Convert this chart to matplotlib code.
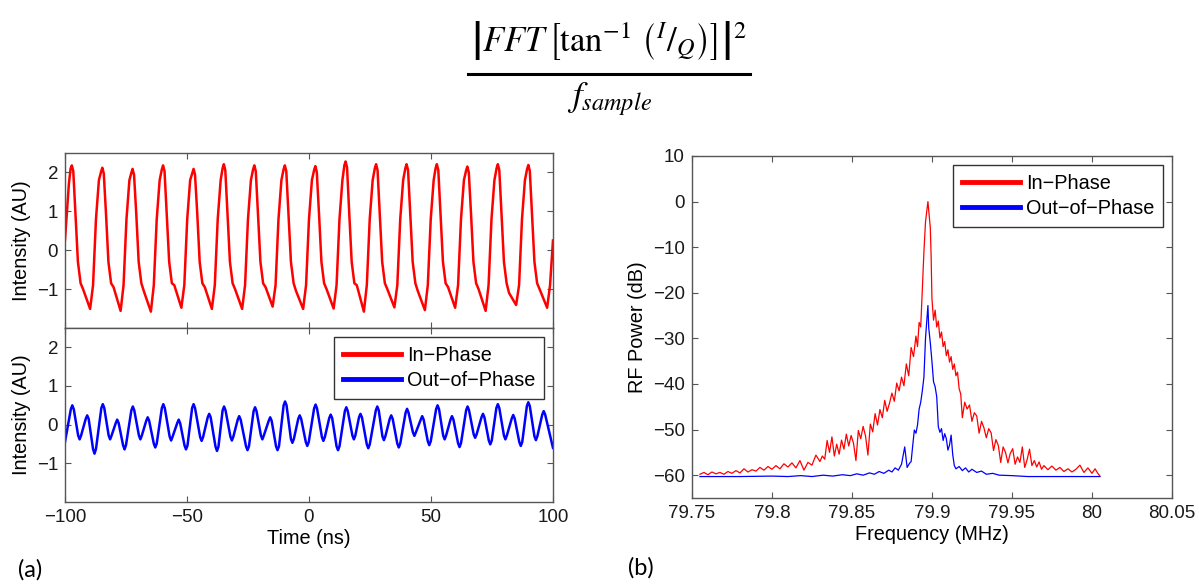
import matplotlib
matplotlib.use('Agg')
import matplotlib.pyplot as plt
from matplotlib.lines import Line2D

plt.rcParams['font.family'] = ['Liberation Sans', 'DejaVu Sans']
plt.rcParams['mathtext.fontset'] = 'stix'

# ---- (a) time traces ----
red_t = [-100.0, -98.4, -97.7,
         -97.2, -96.6, -95.7, -94.7, -93.6, -92.6, -89.7, -88.5, -87.3, -86.1,
         -85.2, -84.7, -84.1, -83.2, -82.2, -81.1, -80.1, -77.2, -76.0, -74.8, -73.6,
         -72.8, -72.3, -71.7, -70.8, -69.8, -68.7, -67.7, -64.8, -63.6, -62.4, -61.2,
         -60.3, -59.8, -59.2, -58.3, -57.3, -56.2, -55.2, -52.3, -51.1, -49.9, -48.7,
         -47.8, -47.3, -46.7, -45.8, -44.8, -43.7, -42.7, -39.8, -38.6, -37.4, -36.2,
         -35.4, -34.9, -34.3, -33.4, -32.4, -31.3, -30.3, -27.4, -26.2, -25.0, -23.8,
         -22.9, -22.4, -21.8, -20.9, -19.9, -18.8, -17.8, -14.9, -13.7, -12.5, -11.3,
         -10.4, -9.9, -9.3, -8.4, -7.4, -6.3, -5.3, -2.4, -1.2, 0.0, 1.2,
         2.1, 2.6, 3.2, 4.1, 5.1, 6.2, 7.2, 10.1, 11.3, 12.5, 13.7,
         14.5, 15.0, 15.6, 16.5, 17.5, 18.6, 19.6, 22.5, 23.7, 24.9, 26.1,
         27.0, 27.5, 28.1, 29.0, 30.0, 31.1, 32.1, 35.0, 36.2, 37.4, 38.6,
         39.5, 40.0, 40.6, 41.5, 42.5, 43.6, 44.6, 47.5, 48.7, 49.9, 51.1,
         51.9, 52.4, 53.0, 53.9, 54.9, 56.0, 57.0, 59.9, 61.1, 62.3, 63.5,
         64.4, 64.9, 65.5, 66.4, 67.4, 68.5, 69.5, 72.4, 73.6, 74.8, 76.0,
         76.9, 77.4, 78.0, 78.9, 79.9, 81.0, 82.0, 84.9, 86.1, 87.3, 88.5,
         89.4, 89.9, 90.5, 91.4, 92.4, 93.5, 94.5, 97.6, 98.8, 100.0]
red_v = [0.26, 1.71, 2.10,
         2.18, 2.03, 0.95, -0.30, -0.85, -1.00, -1.51, -0.90, 0.80, 1.80,
         2.02, 2.12, 1.97, 0.95, -0.30, -0.85, -0.95, -1.56, -0.90, 0.80, 1.80,
         1.99, 2.09, 1.94, 0.95, -0.30, -0.85, -1.05, -1.58, -0.90, 0.80, 1.80,
         2.08, 2.18, 2.03, 0.95, -0.30, -0.85, -0.90, -1.48, -0.90, 0.80, 1.80,
         1.99, 2.09, 1.94, 0.95, -0.30, -0.85, -0.95, -1.51, -0.90, 0.80, 1.80,
         2.11, 2.21, 2.06, 0.95, -0.30, -0.85, -1.00, -1.51, -0.90, 0.80, 1.80,
         2.08, 2.18, 2.03, 0.95, -0.30, -0.85, -0.95, -1.45, -0.90, 0.80, 1.80,
         2.08, 2.18, 2.03, 0.95, -0.30, -0.85, -1.05, -1.51, -0.90, 0.80, 1.80,
         2.06, 2.16, 2.01, 0.95, -0.30, -0.85, -1.00, -1.50, -0.90, 0.80, 1.80,
         2.18, 2.28, 2.13, 0.95, -0.30, -0.85, -0.90, -1.58, -0.90, 0.80, 1.80,
         2.11, 2.21, 2.06, 0.95, -0.30, -0.85, -1.00, -1.47, -0.90, 0.80, 1.80,
         2.11, 2.21, 2.06, 0.95, -0.30, -0.85, -1.05, -1.54, -0.90, 0.80, 1.80,
         2.11, 2.21, 2.06, 0.95, -0.30, -0.85, -0.95, -1.48, -0.90, 0.80, 1.80,
         2.05, 2.15, 2.00, 0.95, -0.30, -0.85, -1.00, -1.56, -0.90, 0.80, 1.80,
         2.11, 2.21, 2.06, 0.95, -0.30, -0.85, -1.10, -1.41, -0.90, 0.80, 1.80,
         2.09, 2.19, 2.04, 0.95, -0.30, -0.85, -1.00, -1.48, -0.90, 0.25]

blue_t = [-100.0,
          -97.6, -97.0, -96.4, -94.6, -94.0, -93.4, -91.5, -90.9, -90.3, -88.5, -87.9, -87.3,
          -85.1, -84.5, -83.9, -82.1, -81.5, -80.9, -79.2, -78.6, -78.0, -76.2, -75.6, -75.0,
          -72.8, -72.2, -71.6, -69.7, -69.1, -68.5, -66.7, -66.1, -65.5, -63.6, -63.0, -62.4,
          -60.3, -59.7, -59.1, -57.1, -56.5, -55.9, -54.0, -53.4, -52.8, -51.0, -50.4, -49.8,
          -47.9, -47.3, -46.7, -44.6, -44.0, -43.4, -41.5, -40.9, -40.3, -38.3, -37.7, -37.1,
          -35.4, -34.8, -34.2, -32.2, -31.6, -31.0, -29.2, -28.6, -28.0, -25.8, -25.2, -24.6,
          -22.7, -22.1, -21.5, -19.7, -19.1, -18.5, -16.5, -15.9, -15.3, -13.5, -12.9, -12.3,
          -10.4, -9.8, -9.2, -7.4, -6.8, -6.2, -4.4, -3.8, -3.2, -1.3, -0.7, -0.1,
          2.1, 2.7, 3.3, 5.3, 5.9, 6.5, 8.3, 8.9, 9.5, 11.3, 11.9, 12.5,
          14.7, 15.3, 15.9, 17.8, 18.4, 19.0, 20.5, 21.1, 21.7, 23.7, 24.3, 24.9,
          27.4, 28.0, 28.6, 30.1, 30.7, 31.3, 33.1, 33.7, 34.3, 36.2, 36.8, 37.4,
          39.6, 40.2, 40.8, 42.6, 43.2, 43.8, 45.8, 46.4, 47.0, 48.7, 49.3, 49.9,
          52.1, 52.7, 53.3, 55.0, 55.6, 56.2, 58.0, 58.6, 59.2, 61.1, 61.7, 62.3,
          64.4, 65.0, 65.6, 67.5, 68.1, 68.7, 70.7, 71.3, 71.9, 73.7, 74.3, 74.9,
          76.8, 77.4, 78.0, 79.9, 80.5, 81.1, 83.1, 83.7, 84.3, 86.2, 86.8, 87.4,
          89.3, 89.9, 90.5, 92.4, 93.0, 93.6, 95.6, 96.2, 96.8,
          100.0]
blue_v = [-0.45,
          0.40, 0.50, 0.40, -0.28, -0.38, -0.28, 0.15, 0.24, 0.15, -0.63, -0.75, -0.63,
          0.43, 0.53, 0.43, -0.28, -0.38, -0.28, 0.04, 0.13, 0.04, -0.53, -0.64, -0.53,
          0.37, 0.47, 0.37, -0.28, -0.38, -0.28, 0.10, 0.19, 0.10, -0.49, -0.59, -0.49,
          0.43, 0.53, 0.43, -0.31, -0.41, -0.31, 0.04, 0.13, 0.04, -0.54, -0.64, -0.54,
          0.43, 0.53, 0.43, -0.32, -0.42, -0.32, 0.19, 0.28, 0.19, -0.57, -0.68, -0.57,
          0.37, 0.47, 0.37, -0.31, -0.41, -0.31, 0.13, 0.22, 0.13, -0.56, -0.66, -0.56,
          0.35, 0.45, 0.35, -0.28, -0.38, -0.28, 0.10, 0.19, 0.10, -0.56, -0.66, -0.56,
          0.50, 0.60, 0.50, -0.37, -0.47, -0.37, 0.15, 0.24, 0.15, -0.45, -0.55, -0.45,
          0.42, 0.52, 0.42, -0.32, -0.42, -0.32, 0.17, 0.26, 0.17, -0.56, -0.66, -0.56,
          0.35, 0.45, 0.35, -0.28, -0.38, -0.28, 0.19, 0.28, 0.19, -0.51, -0.61, -0.51,
          0.37, 0.47, 0.37, -0.30, -0.40, -0.30, 0.15, 0.24, 0.15, -0.49, -0.59, -0.49,
          0.31, 0.41, 0.31, -0.20, -0.29, -0.20, 0.13, 0.22, 0.13, -0.43, -0.53, -0.43,
          0.40, 0.50, 0.40, -0.28, -0.38, -0.28, 0.13, 0.22, 0.13, -0.48, -0.58, -0.48,
          0.37, 0.47, 0.37, -0.25, -0.34, -0.25, 0.19, 0.28, 0.19, -0.41, -0.51, -0.41,
          0.43, 0.53, 0.43, -0.28, -0.38, -0.28, 0.16, 0.25, 0.16, -0.45, -0.55, -0.45,
          0.48, 0.58, 0.48, -0.30, -0.40, -0.30, 0.26, 0.35, 0.26,
          -0.60]

time_ticks = [-100, -50, 0, 50, 100]
int_ticks = [-1, 0, 1, 2]

# ---- (b) RF spectra ----
red_f = [79.755, 79.7575, 79.760, 79.7625, 79.765, 79.7675, 79.770, 79.7725, 79.775, 79.7775,
         79.780, 79.7825, 79.785, 79.7875, 79.790, 79.7925, 79.795, 79.7975, 79.800, 79.8025,
         79.805, 79.8075, 79.810, 79.8125, 79.815, 79.8175, 79.820, 79.8225, 79.825, 79.8275,
         79.830, 79.8315, 79.833, 79.8345, 79.836, 79.8375, 79.839, 79.8405, 79.842, 79.8435,
         79.845, 79.8465, 79.848, 79.8495, 79.851, 79.8525, 79.854, 79.8555, 79.857, 79.8585,
         79.860, 79.8615, 79.863, 79.8645, 79.866, 79.8675, 79.869, 79.8705, 79.872, 79.8735,
         79.875, 79.8765, 79.878, 79.8795, 79.881, 79.8825, 79.884, 79.8855, 79.887, 79.8885,
         79.890, 79.891, 79.892, 79.893, 79.894, 79.895, 79.896, 79.8975, 79.899, 79.8995,
         79.900, 79.901, 79.902, 79.903, 79.904, 79.905, 79.906, 79.907, 79.908, 79.909,
         79.910, 79.911, 79.912, 79.913, 79.914, 79.915, 79.916, 79.917, 79.918, 79.919,
         79.9205, 79.922, 79.9235, 79.925, 79.9265, 79.928, 79.9295, 79.931, 79.9325, 79.934,
         79.9355, 79.937, 79.9385, 79.940, 79.9415, 79.943, 79.9445, 79.946, 79.9475, 79.949,
         79.9505, 79.952, 79.9535, 79.955, 79.9565, 79.958, 79.9595, 79.961, 79.9625, 79.964,
         79.9655, 79.967, 79.9685, 79.970, 79.9725, 79.975, 79.9775, 79.980, 79.9825, 79.985,
         79.9875, 79.990, 79.9925, 79.995, 79.9975, 80.000, 80.002, 80.0035, 80.005]
red_db = [-59.8, -59.4, -59.9, -59.3, -59.7, -59.4, -59.8, -59.2, -59.6, -59.0,
          -59.5, -58.6, -59.3, -58.8, -59.1, -58.3, -58.9, -58.1, -58.7, -57.9,
          -58.6, -57.5, -58.2, -57.3, -58.4, -56.8, -58.9, -57.2, -57.8, -55.6,
          -57.0, -55.8, -56.5, -52.4, -55.0, -51.6, -55.8, -53.2, -55.4, -52.3,
          -54.3, -51.0, -53.6, -51.3, -53.0, -56.8, -50.2, -52.0, -49.3, -51.4,
          -55.6, -48.8, -50.5, -46.5, -49.0, -45.6, -47.4, -43.6, -46.0, -44.2,
          -42.0, -43.8, -39.8, -41.5, -38.5, -40.4, -35.6, -38.2, -32.0, -34.0,
          -29.5, -31.8, -26.5, -27.5, -19.0, -11.0, -4.4, 0.0, -5.8, -12.0,
          -21.2, -26.0, -23.8, -27.5, -26.2, -29.9, -28.6, -31.8, -30.7, -33.8,
          -32.5, -35.2, -34.0, -36.8, -35.6, -38.2, -37.4, -41.0, -42.2, -47.4,
          -44.0, -45.5, -44.6, -48.2, -46.3, -47.0, -50.8, -48.2, -49.6, -51.8,
          -49.8, -50.7, -54.6, -52.2, -53.5, -57.2, -53.8, -55.0, -57.3, -55.2,
          -54.2, -57.6, -56.0, -57.2, -53.8, -58.3, -56.6, -54.3, -57.9, -56.8,
          -58.2, -57.1, -58.7, -57.9, -58.8, -58.0, -58.9, -58.3, -59.2, -58.6,
          -59.3, -58.7, -57.8, -59.4, -58.4, -59.6, -58.6, -59.5, -60.2]

blue_f = [79.755, 79.780, 79.800, 79.810, 79.818, 79.825, 79.832, 79.838, 79.844, 79.849,
          79.853, 79.857, 79.861, 79.864, 79.867, 79.870, 79.873, 79.875, 79.877, 79.879,
          79.881, 79.883, 79.8845, 79.886, 79.887, 79.888, 79.889, 79.890, 79.891, 79.892,
          79.893, 79.894, 79.895, 79.896, 79.8975, 79.898, 79.899, 79.900, 79.901, 79.902,
          79.903, 79.904, 79.905, 79.906, 79.907, 79.908, 79.909, 79.910, 79.911, 79.912,
          79.913, 79.914, 79.915, 79.917, 79.919, 79.921, 79.923, 79.925, 79.928, 79.931,
          79.934, 79.938, 79.942, 79.950, 79.960, 79.980, 80.005]
blue_db = [-60.3, -60.3, -60.2, -60.3, -60.1, -60.3, -60.0, -60.2, -59.9, -60.1,
           -59.7, -60.0, -59.5, -59.8, -59.2, -59.6, -58.9, -59.3, -58.4, -58.9,
           -57.6, -53.8, -58.3, -57.4, -57.0, -53.5, -50.1, -50.8, -49.0, -45.5,
           -44.0, -41.5, -38.5, -29.9, -22.8, -27.7, -31.0, -35.0, -39.5, -40.6,
           -42.8, -49.4, -50.6, -49.8, -52.4, -50.9, -52.0, -54.5, -53.4, -51.2,
           -55.5, -57.9, -58.6, -58.1, -59.0, -58.4, -59.3, -58.7, -59.4, -59.1,
           -59.8, -59.6, -60.0, -60.1, -60.3, -60.3, -60.3]

freq_ticks = [79.75, 79.8, 79.85, 79.9, 79.95, 80.0, 80.05]
freq_labels = ['79.75', '79.8', '79.85', '79.9', '79.95', '80', '80.05']
db_ticks = [-60, -50, -40, -30, -20, -10, 0, 10]

RED = '#ff0000'
BLUE = '#0000ff'
EDGE = '#555555'
FS = 13.5
LFS = 14.3


def style(ax):
    for s in ax.spines.values():
        s.set_color(EDGE)
        s.set_linewidth(1.0)
    ax.tick_params(direction='in', top=True, right=True, length=4, width=0.8,
                   color=EDGE, labelsize=FS, labelcolor='#1a1a1a', pad=5)


def add_legend(ax, handles):
    leg = ax.legend(handles, ['In\u2212Phase', 'Out\u2212of\u2212Phase'], loc='upper right',
                    fontsize=LFS, fancybox=False, framealpha=1, edgecolor='#333333',
                    handlelength=2.9, borderpad=0.45, labelspacing=0.3,
                    handletextpad=0.3, borderaxespad=0.45)
    leg.get_frame().set_linewidth(1.0)


fig = plt.figure(figsize=(11.99, 5.84), dpi=100)

# formula at the top
fig.text(0.508, 1 - 40 / 584,
         r'$\left|FFT\,\left[\tan^{-1}\,\left({}^{I}/_{Q}\right)\right]\right|^{2}$',
         ha='center', va='center', fontsize=25)
fig.add_artist(Line2D([468 / 1199, 750 / 1199], [1 - 74 / 584] * 2, color='black', lw=2.2))
fig.text(0.508, 1 - 99 / 584, r'$f_{sample}$', ha='center', va='center', fontsize=25)

# ---- (a) ----
ax_top = fig.add_axes([0.0542, 0.4384, 0.407, 0.2997])
ax_bot = fig.add_axes([0.0542, 0.1404, 0.407, 0.298])

ax_top.plot(red_t, red_v, color=RED, lw=1.8, solid_joinstyle='round')
ax_bot.plot(blue_t, blue_v, color=BLUE, lw=1.8, solid_joinstyle='round')

for ax in (ax_top, ax_bot):
    ax.set_xlim(-100, 100)
    ax.set_ylim(-2, 2.5)
    ax.set_xticks(time_ticks)
    ax.set_yticks(int_ticks)
    ax.set_ylabel('Intensity (AU)', fontsize=LFS)
    style(ax)
ax_top.tick_params(labelbottom=False)
ax_bot.set_xlabel('Time (ns)', fontsize=LFS, labelpad=2)

handles = [Line2D([], [], color=RED, lw=3.5), Line2D([], [], color=BLUE, lw=3.5)]
add_legend(ax_bot, handles)

# ---- (b) ----
ax_rf = fig.add_axes([0.5771, 0.1473, 0.4003, 0.5856])
ax_rf.plot(red_f, red_db, color=RED, lw=0.9)
ax_rf.plot(blue_f, blue_db, color=BLUE, lw=0.9)
ax_rf.set_xlim(79.75, 80.05)
ax_rf.set_ylim(-65, 10)
ax_rf.set_xticks(freq_ticks)
ax_rf.set_xticklabels(freq_labels)
ax_rf.set_yticks(db_ticks)
ax_rf.set_xlabel('Frequency (MHz)', fontsize=LFS, labelpad=2)
ax_rf.set_ylabel('RF Power (dB)', fontsize=LFS)
style(ax_rf)
add_legend(ax_rf, handles)

# panel letters
fig.text(18 / 1199, 1 - 570 / 584, '(a)', family='Lato', fontsize=17, va='center', ha='left')
fig.text(628 / 1199, 1 - 568 / 584, '(b)', family='Lato', fontsize=17, va='center', ha='left')

fig.savefig('out.png', dpi=100)
